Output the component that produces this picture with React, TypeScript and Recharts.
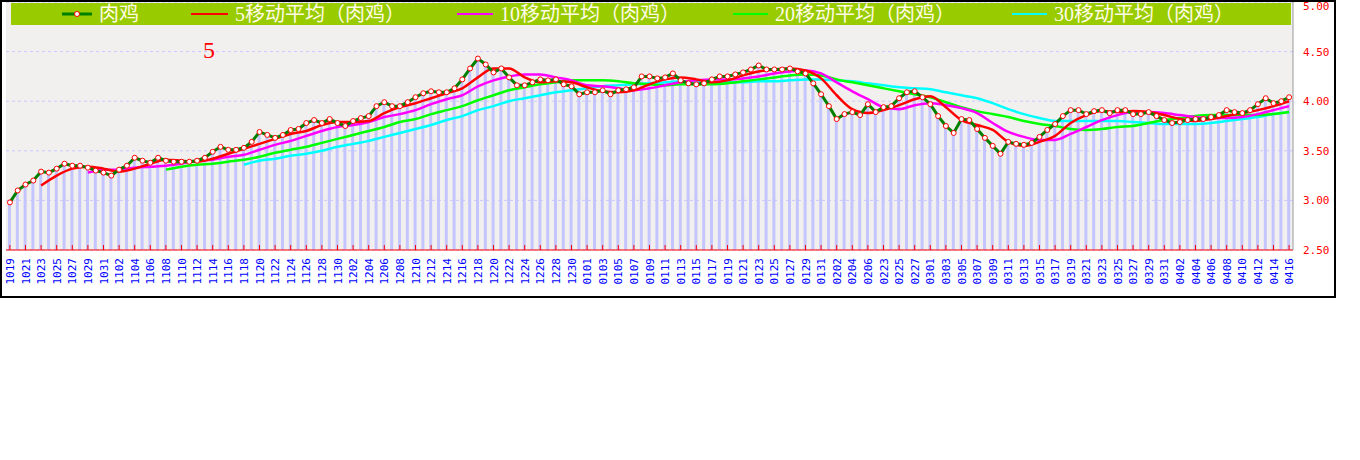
import { ComposedChart, Bar, Line, XAxis, YAxis, CartesianGrid } from "recharts";

// one entry per day
const dates = [
  "1019", "1020", "1021", "1022", "1023", "1024", "1025", "1026", "1027", "1028", "1029", "1030", "1031",
  "1101", "1102", "1103", "1104", "1105", "1106", "1107", "1108", "1109", "1110", "1111", "1112", "1113", "1114", "1115",
  "1116", "1117", "1118", "1119", "1120", "1121", "1122", "1123", "1124", "1125", "1126", "1127", "1128", "1129", "1130",
  "1201", "1202", "1203", "1204", "1205", "1206", "1207", "1208", "1209", "1210", "1211", "1212", "1213", "1214", "1215", "1216",
  "1217", "1218", "1219", "1220", "1221", "1222", "1223", "1224", "1225", "1226", "1227", "1228", "1229", "1230", "1231",
  "0101", "0102", "0103", "0104", "0105", "0106", "0107", "0108", "0109", "0110", "0111", "0112", "0113", "0114", "0115", "0116",
  "0117", "0118", "0119", "0120", "0121", "0122", "0123", "0124", "0125", "0126", "0127", "0128", "0129", "0130", "0131",
  "0201", "0202", "0203", "0204", "0205", "0206", "0207",
  "0223", "0224", "0225", "0226", "0227", "0228",
  "0301", "0302", "0303", "0304", "0305", "0306", "0307", "0308", "0309", "0310", "0311", "0312", "0313", "0314", "0315", "0316",
  "0317", "0318", "0319", "0320", "0321", "0322", "0323", "0324", "0325", "0326", "0327", "0328", "0329", "0330", "0331",
  "0401", "0402", "0403", "0404", "0405", "0406", "0407", "0408", "0409", "0410", "0411", "0412", "0413", "0414", "0415", "0416",
];

// 肉鸡 daily price
const price = [
  2.98, 3.10, 3.16, 3.20, 3.29, 3.28, 3.32, 3.37, 3.35, 3.35, 3.33, 3.30, 3.28,
  3.25, 3.31, 3.35, 3.43, 3.40, 3.38, 3.43, 3.40, 3.39, 3.39, 3.39, 3.40, 3.43, 3.49, 3.54,
  3.51, 3.51, 3.53, 3.59, 3.69, 3.66, 3.63, 3.66, 3.71, 3.72, 3.78, 3.81, 3.78, 3.82, 3.78,
  3.75, 3.80, 3.83, 3.85, 3.95, 3.99, 3.95, 3.95, 3.99, 4.04, 4.08, 4.10, 4.09, 4.09, 4.13, 4.22,
  4.33, 4.43, 4.37, 4.29, 4.33, 4.24, 4.16, 4.16, 4.19, 4.22, 4.21, 4.22, 4.17, 4.15, 4.07,
  4.09, 4.09, 4.11, 4.07, 4.11, 4.12, 4.14, 4.25, 4.25, 4.23, 4.24, 4.28, 4.21, 4.18, 4.17, 4.18,
  4.22, 4.25, 4.25, 4.27, 4.29, 4.32, 4.36, 4.32, 4.32, 4.32, 4.33, 4.30, 4.28, 4.18, 4.07,
  3.95, 3.82, 3.87, 3.89, 3.86, 3.97, 3.89,
  3.94, 3.95, 4.03, 4.09, 4.10, 4.04,
  3.97, 3.85, 3.75, 3.68, 3.82, 3.81, 3.72, 3.63, 3.55, 3.47, 3.59, 3.57, 3.56, 3.58, 3.64, 3.71,
  3.77, 3.85, 3.91, 3.91, 3.87, 3.90, 3.91, 3.88, 3.91, 3.91, 3.87, 3.87, 3.89, 3.85, 3.81,
  3.78, 3.79, 3.81, 3.82, 3.82, 3.84, 3.86, 3.91, 3.89, 3.88, 3.91, 3.97, 4.03, 3.98, 4.00, 4.04,
];

// moving averages, read at every other day (the labelled days)
const ma5 = [
  null, null, 3.15, 3.25, 3.32, 3.34, 3.32, 3.29, 3.32, 3.37, 3.41, 3.40, 3.39, 3.42, 3.47, 3.52,
  3.57, 3.62, 3.67, 3.70, 3.76, 3.79, 3.79, 3.80, 3.88, 3.94, 3.98, 4.03, 4.08, 4.13, 4.24, 4.33,
  4.33, 4.24, 4.19, 4.20, 4.19, 4.14, 4.10, 4.09, 4.11, 4.17, 4.22, 4.24, 4.22, 4.19, 4.21, 4.26,
  4.30, 4.32, 4.33, 4.31, 4.23, 4.06, 3.92, 3.88, 3.91, 3.96, 4.02, 4.05, 3.94, 3.81, 3.76, 3.71,
  3.59, 3.55, 3.59, 3.65, 3.78, 3.86, 3.90, 3.89, 3.90, 3.89, 3.86, 3.82, 3.80, 3.82, 3.85, 3.88,
  3.91, 3.95, 4.00,
];

const ma10 = [
  null, null, null, null, null, 3.28, 3.31, 3.31, 3.33, 3.34, 3.35, 3.37, 3.40, 3.41, 3.44, 3.46,
  3.51, 3.56, 3.60, 3.65, 3.70, 3.74, 3.76, 3.79, 3.84, 3.87, 3.91, 3.97, 4.02, 4.06, 4.15, 4.21,
  4.25, 4.27, 4.27, 4.24, 4.21, 4.16, 4.15, 4.13, 4.11, 4.13, 4.16, 4.19, 4.21, 4.22, 4.22, 4.23,
  4.25, 4.28, 4.30, 4.31, 4.28, 4.19, 4.10, 4.02, 3.94, 3.92, 3.96, 3.98, 3.96, 3.93, 3.88, 3.78,
  3.69, 3.64, 3.61, 3.61, 3.67, 3.74, 3.81, 3.86, 3.89, 3.89, 3.88, 3.86, 3.84, 3.83, 3.83, 3.84,
  3.87, 3.91, 3.95,
];

const ma20 = [
  null, null, null, null, null, null, null, null, null, null, 3.31, 3.34, 3.36, 3.37, 3.39, 3.41,
  3.44, 3.48, 3.51, 3.54, 3.58, 3.62, 3.66, 3.70, 3.74, 3.79, 3.82, 3.87, 3.91, 3.95, 4.01, 4.06,
  4.11, 4.14, 4.17, 4.19, 4.21, 4.21, 4.21, 4.20, 4.18, 4.17, 4.16, 4.17, 4.17, 4.17, 4.18, 4.20,
  4.22, 4.24, 4.26, 4.27, 4.26, 4.22, 4.19, 4.16, 4.13, 4.10, 4.07, 4.04, 3.99, 3.94, 3.90, 3.87,
  3.84, 3.80, 3.77, 3.75, 3.72, 3.71, 3.72, 3.74, 3.75, 3.78, 3.81, 3.83, 3.85, 3.86, 3.86, 3.86,
  3.86, 3.87, 3.89,
];

const ma30 = [
  null, null, null, null, null, null, null, null, null, null, null, null, null, null, null, 3.36,
  3.40, 3.42, 3.45, 3.47, 3.50, 3.54, 3.57, 3.60, 3.64, 3.68, 3.72, 3.76, 3.81, 3.85, 3.91, 3.95,
  4.00, 4.03, 4.06, 4.09, 4.11, 4.13, 4.15, 4.16, 4.17, 4.18, 4.19, 4.20, 4.20, 4.19, 4.19, 4.19,
  4.20, 4.20, 4.21, 4.22, 4.22, 4.21, 4.20, 4.18, 4.16, 4.14, 4.13, 4.12, 4.09, 4.06, 4.03, 3.98,
  3.92, 3.87, 3.83, 3.80, 3.80, 3.80, 3.80, 3.80, 3.79, 3.78, 3.77, 3.77, 3.77, 3.78, 3.80, 3.82,
  3.84, 3.87, 3.89,
];

const yTicks = [2.5, 3, 3.5, 4, 4.5, 5];

const rows = dates.map((d, i) => ({
  date: d,
  price: price[i],
  ma5: i % 2 === 0 ? ma5[i / 2] : null,
  ma10: i % 2 === 0 ? ma10[i / 2] : null,
  ma20: i % 2 === 0 ? ma20[i / 2] : null,
  ma30: i % 2 === 0 ? ma30[i / 2] : null,
}));

const legend = [
  { name: "肉鸡", color: "#008000", dot: true, x: 62, w: 30 },
  { name: "5移动平均（肉鸡）", color: "#ff0000", dot: false, x: 191, w: 37 },
  { name: "10移动平均（肉鸡）", color: "#ff00ff", dot: false, x: 457, w: 36 },
  { name: "20移动平均（肉鸡）", color: "#00ff00", dot: false, x: 733, w: 35 },
  { name: "30移动平均（肉鸡）", color: "#00ffff", dot: false, x: 1012, w: 35 },
];

const mono = "'DejaVu Sans Mono', monospace";

function DateTick(props: any) {
  const { x, y, payload } = props;
  return (
    <g>
      <line x1={x} x2={x} y1={y - 5} y2={y} stroke="#ff0000" strokeWidth={1} />
      <text
        transform={`translate(${x + 4},${y + 8}) rotate(-90)`}
        textAnchor="end"
        fill="#0000ff"
        fontSize={11}
        fontFamily={mono}
      >
        {payload.value}
      </text>
    </g>
  );
}

export default function App() {
  return (
    <div style={{ position: "absolute", left: 0, top: 0, width: 1336, height: 298, background: "#fff" }}>
      <ComposedChart
        width={1336}
        height={298}
        data={rows}
        margin={{ top: 2, right: 3, left: 6, bottom: 3 }}
        barCategoryGap={0}
      >
        <CartesianGrid
          yAxisId="r"
          vertical={false}
          stroke="#c8c8ff"
          strokeDasharray="3 3"
          fill="#f2f0ef"
          fillOpacity={1}
        />
        <XAxis
          dataKey="date"
          interval={1}
          height={45}
          tickSize={0}
          tickMargin={0}
          tickLine={false}
          axisLine={{ stroke: "#ff0000" }}
          tick={(p: any) => <DateTick {...p} />}
        />
        <YAxis
          yAxisId="l"
          orientation="left"
          width={0}
          domain={[2.5, 5]}
          ticks={yTicks}
          allowDataOverflow
          tickSize={3}
          axisLine={{ stroke: "#000" }}
          tickLine={{ stroke: "#000" }}
          tick={() => <g />}
        />
        <YAxis
          yAxisId="r"
          orientation="right"
          width={40}
          domain={[2.5, 5]}
          ticks={yTicks}
          allowDataOverflow
          tickSize={0}
          tickMargin={10}
          tickLine={false}
          axisLine={{ stroke: "#999" }}
          tick={{ fill: "#ff0000", fontSize: 11, fontFamily: mono }}
          tickFormatter={(v: number) => v.toFixed(2)}
        />
        <Bar yAxisId="l" dataKey="price" fill="#c4c4ff" barSize={3} isAnimationActive={false} />
        <Line yAxisId="r" type="monotone" dataKey="ma30" stroke="#00ffff" strokeWidth={2.5} dot={false} connectNulls isAnimationActive={false} />
        <Line yAxisId="r" type="monotone" dataKey="ma20" stroke="#00ff00" strokeWidth={2.5} dot={false} connectNulls isAnimationActive={false} />
        <Line yAxisId="r" type="monotone" dataKey="ma10" stroke="#ff00ff" strokeWidth={2.5} dot={false} connectNulls isAnimationActive={false} />
        <Line yAxisId="r" type="monotone" dataKey="ma5" stroke="#ff0000" strokeWidth={2.5} dot={false} connectNulls isAnimationActive={false} />
        <Line
          yAxisId="r"
          type="linear"
          dataKey="price"
          stroke="#008000"
          strokeWidth={3}
          dot={{ r: 2.5, stroke: "#ff0000", strokeWidth: 1, fill: "#ffffff" }}
          isAnimationActive={false}
        />
      </ComposedChart>

      {/* legend band */}
      <div style={{ position: "absolute", left: 11, top: 3, width: 1280, height: 22, background: "#99cc00" }} />
      {legend.map((item) => (
        <div key={item.name}>
          <svg
            style={{ position: "absolute", left: item.x, top: 9 }}
            width={item.w}
            height={10}
          >
            <line x1={0} x2={item.w} y1={5} y2={5} stroke={item.color} strokeWidth={item.dot ? 3 : 2} />
            {item.dot && <circle cx={item.w / 2} cy={5} r={2.5} fill="#fff" stroke="#ff0000" strokeWidth={1} />}
          </svg>
          <div
            style={{
              position: "absolute",
              left: item.x + item.w + 7,
              top: 3,
              height: 22,
              lineHeight: "22px",
              fontSize: 20,
              whiteSpace: "nowrap",
              color: "#fffbe6",
              fontFamily: "'Liberation Serif', 'Noto Sans CJK SC', serif",
            }}
          >
            {item.name}
          </div>
        </div>
      ))}

      <div
        style={{
          position: "absolute",
          left: 203,
          top: 38,
          fontSize: 24,
          lineHeight: "24px",
          color: "#ff0000",
          fontFamily: "'Liberation Serif', serif",
        }}
      >
        5
      </div>

      <div
        style={{
          position: "absolute",
          left: 0,
          top: 0,
          width: 1336,
          height: 298,
          border: "2px solid #000",
          boxSizing: "border-box",
          pointerEvents: "none",
        }}
      />
    </div>
  );
}
